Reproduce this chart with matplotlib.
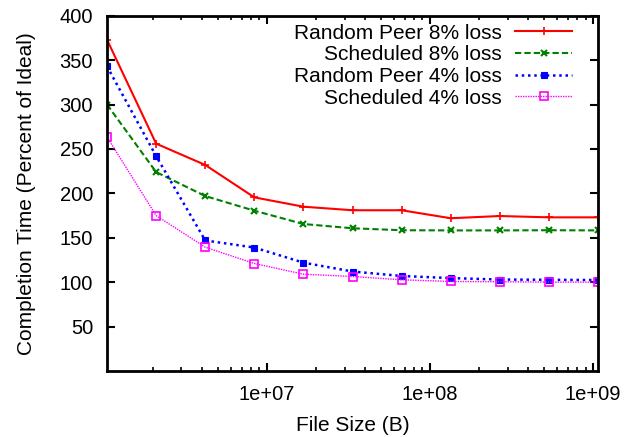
import matplotlib.pyplot as plt
import matplotlib.ticker as mticker
import numpy as np

plt.rcParams['font.family'] = ['Liberation Sans', 'DejaVu Sans']

# file sizes: 2^20 .. 2^30 bytes
file_size = [2 ** k for k in range(20, 31)]

random_8 = [373, 256, 232, 195.5, 185, 181, 181, 172, 174.5, 173, 173]
sched_8 = [300, 224, 197, 180.5, 165.5, 160.7, 158.5, 158.3, 158.3, 158.5, 158.3]
random_4 = [343, 242, 147, 139, 122, 112, 107, 104.6, 103, 102.7, 102.4]
sched_4 = [263.5, 175, 139.4, 121, 109, 106.4, 102.7, 100.8, 100.5, 100.1, 100.1]

labels = ["Random Peer 8% loss", "Scheduled 8% loss",
          "Random Peer 4% loss", "Scheduled 4% loss"]
y_ticks = [50, 100, 150, 200, 250, 300, 350, 400]
x_ticks = [1e7, 1e8, 1e9]
x_tick_labels = ["1e+07", "1e+08", "1e+09"]

fig = plt.figure(figsize=(6.34, 4.37), dpi=100)
ax = fig.add_axes([0.1688, 0.151, 0.7745, 0.813])

ax.plot(file_size, random_8, color="red", linestyle="-", linewidth=1.5,
        marker="+", markersize=6, markeredgewidth=1.2, label=labels[0])
ax.plot(file_size, sched_8, color="green", linestyle=(0, (3, 1.5)), linewidth=1.5,
        marker="x", markersize=5, markeredgewidth=1.5, label=labels[1])
ax.plot(file_size, random_4, color="blue", linestyle=(0, (1, 1.5)), linewidth=1.8,
        marker="s", markersize=4.5, markerfacecolor="blue", markeredgewidth=0.8,
        label=labels[2])
ax.plot(file_size, sched_4, color="magenta", linestyle=(0, (1, 0.8)), linewidth=1.0,
        marker="s", markersize=6, markerfacecolor="none", markeredgewidth=1.2,
        label=labels[3])

ax.set_xscale("log")
ax.set_xlim(file_size[0], file_size[-1])
ax.set_ylim(0, 400)
ax.set_yticks(y_ticks)
ax.set_xticks(x_ticks)
ax.set_xticklabels(x_tick_labels)
ax.xaxis.set_minor_locator(mticker.LogLocator(base=10, subs=np.arange(2, 10)))
ax.xaxis.set_minor_formatter(mticker.NullFormatter())

for s in ax.spines.values():
    s.set_linewidth(2)
ax.tick_params(which="major", direction="in", length=6, width=1.5,
               top=True, right=True, labelsize=14.5)
ax.tick_params(axis="y", which="major", pad=10)
ax.tick_params(axis="x", which="major", pad=10)
ax.tick_params(which="minor", direction="in", length=3, width=1.2,
               top=True, right=True)

ax.set_xlabel("File Size (B)", fontsize=15, labelpad=9)
ax.set_ylabel("Completion Time (Percent of Ideal)", fontsize=15, labelpad=17)

ax.legend(loc="upper right", bbox_to_anchor=(0.947, 0.978), frameon=False,
          markerfirst=False, fontsize=15, handlelength=2.72, handletextpad=0.67,
          labelspacing=0.13, borderpad=0, borderaxespad=0)

fig.savefig("out.png", dpi=100)
